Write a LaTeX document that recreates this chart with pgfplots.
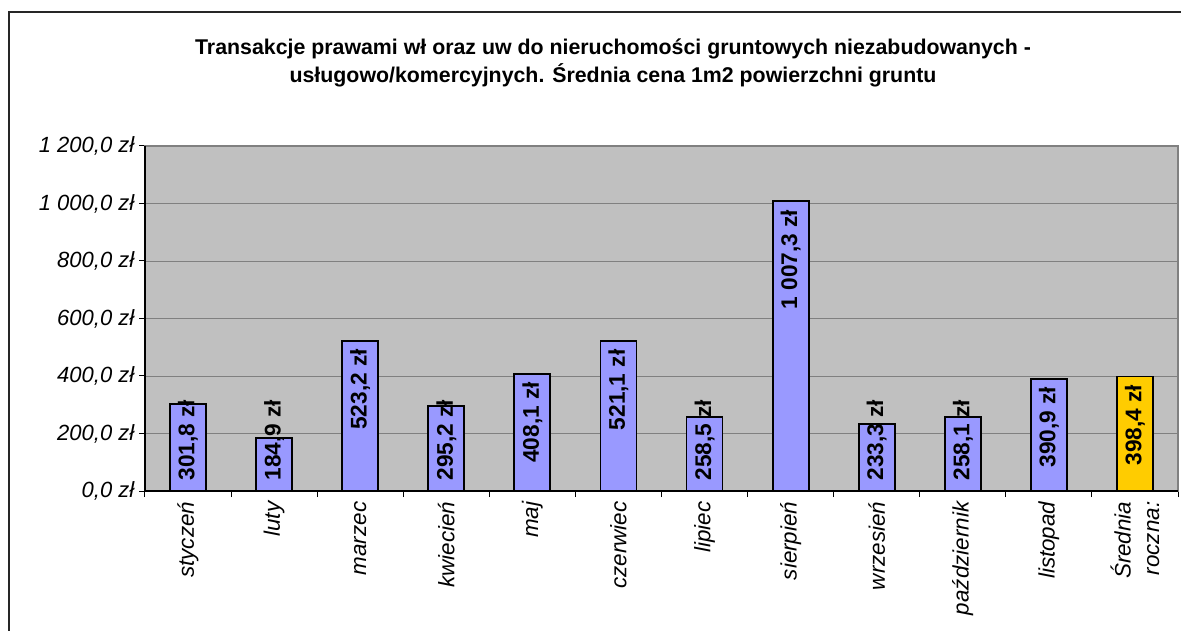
\documentclass[border=0pt]{standalone}
\usepackage{pgfplots}
\pgfplotsset{compat=1.18}
\usepackage{pgfplotstable}
\usepackage{fontspec}
\setmainfont{Liberation Sans}
\definecolor{barblue}{HTML}{9999FF}
\definecolor{baryellow}{HTML}{FFCC00}
\definecolor{plotbg}{HTML}{C0C0C0}
\definecolor{gridgray}{HTML}{808080}

% x = category index, v = value, lab = vertical position of the value label
\pgfplotstableread{
x v lab
0 301.8 318
1 184.9 318
2 523.2 495
3 295.2 318
4 408.1 380
5 521.1 493
6 258.5 318
7 1007.3 979
8 233.3 318
9 258.1 318
10 390.9 363
}\months
\pgfplotstableread{
x v lab
11 398.4 370
}\avg

\begin{document}
\begin{tikzpicture}
\useasboundingbox (-108.75pt,-105pt) rectangle (777pt,368.25pt);
\draw[line width=1.1pt, black!85] (-102pt,-110pt) -- (-102pt,359.25pt) -- (790pt,359.25pt);
\node[font=\bfseries\fontsize{16}{20.5}\selectfont, align=center] at (351pt,321pt)
  {Transakcje prawami wł oraz uw do nieruchomości gruntowych niezabudowanych -\\usługowo/komercyjnych. Średnia cena 1m2 powierzchni gruntu};
\begin{axis}[
  at={(0pt,0pt)}, anchor=south west,
  scale only axis, width=774.75pt, height=258.75pt,
  xmin=-0.5, xmax=11.5, ymin=0, ymax=1200,
  axis background/.style={fill=plotbg},
  axis line style={draw=gridgray, line width=0.8pt},
  ymajorgrids, grid style={gridgray, line width=0.6pt},
  ytick={0,200,...,1200},
  yticklabels={{0,0 zł},{200,0 zł},{400,0 zł},{600,0 zł},{800,0 zł},{1 000,0 zł},{1 200,0 zł}},
  ytick pos=left, xtick pos=bottom,
  tick align=outside,
  major tick length=4.5pt, minor tick length=4.5pt,
  tick style={black, line width=0.75pt},
  xtick={0,...,11},
  xticklabels={styczeń,luty,marzec,kwiecień,maj,czerwiec,lipiec,sierpień,wrzesień,październik,listopad,{Średnia\\roczna:}},
  major x tick style={draw=none},
  minor xtick={-0.5,0.5,...,11.5},
  xticklabel style={rotate=90, anchor=east, align=right, font=\itshape\fontsize{16.8}{21.5}\selectfont},
  yticklabel style={font=\itshape\fontsize{16.5}{19}\selectfont},
  clip=false,
]
\addplot[ybar, bar width=27pt, bar shift=0pt, fill=barblue, draw=black, line width=1.4pt] table[x=x,y=v] {\months};
\addplot[ybar, bar width=27pt, bar shift=0pt, fill=baryellow, draw=black, line width=1.4pt] table[x=x,y=v] {\avg};
\addplot[draw=none, mark=none, point meta=explicit,
  nodes near coords={\pgfmathprintnumber[fixed, fixed zerofill, precision=1, use comma, 1000 sep={\ }, assume math mode=true]{\pgfplotspointmeta}~zł},
  every node near coord/.append style={rotate=90, anchor=east, inner sep=0pt, font=\bfseries\fontsize{17}{19}\selectfont}]
  table[x=x, y=lab, meta=v] {\months};
\addplot[draw=none, mark=none, point meta=explicit,
  nodes near coords={\pgfmathprintnumber[fixed, fixed zerofill, precision=1, use comma, 1000 sep={\ }, assume math mode=true]{\pgfplotspointmeta}~zł},
  every node near coord/.append style={rotate=90, anchor=east, inner sep=0pt, font=\bfseries\fontsize{17}{19}\selectfont}]
  table[x=x, y=lab, meta=v] {\avg};
\draw[black, line width=1pt] (rel axis cs:0,1) -- (rel axis cs:0,0) -- (rel axis cs:1,0);
\end{axis}
\end{tikzpicture}
\end{document}
